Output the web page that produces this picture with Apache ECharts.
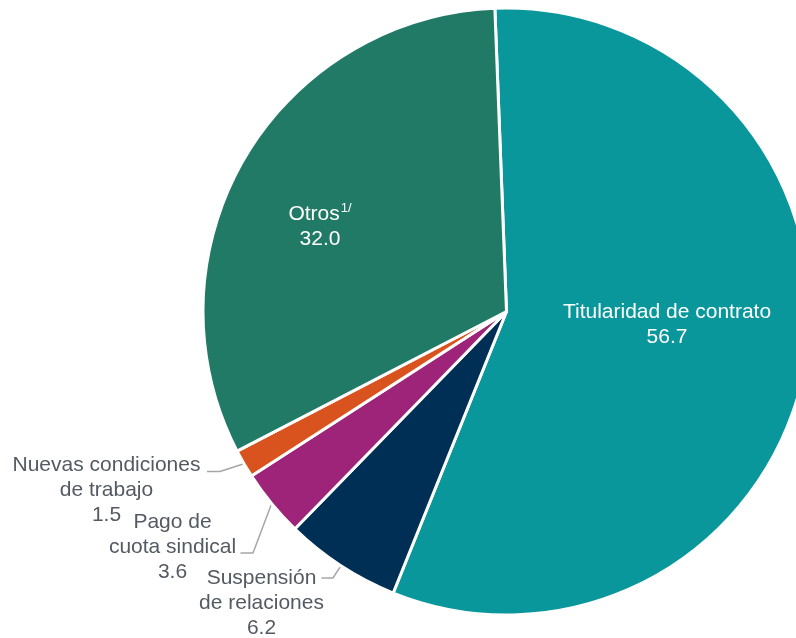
<!DOCTYPE html>
<html>
<head>
<meta charset="utf-8">
<script src="https://cdn.jsdelivr.net/npm/echarts@6/dist/echarts.min.js"></script>
<style>
html,body{margin:0;padding:0;background:#fff;}
#c{width:796px;height:638px;}
</style>
</head>
<body>
<div id="c"></div>
<script>
const categories = ['Titularidad de contrato', 'Suspensión de relaciones', 'Pago de cuota sindical', 'Nuevas condiciones de trabajo', 'Otros'];
const displayNames = ['Titularidad de contrato', 'Suspensión\nde relaciones', 'Pago de\ncuota sindical', 'Nuevas condiciones\nde trabajo', 'Otros{s|1/}'];
const values = [56.7, 6.2, 3.6, 1.5, 32.0];
const valueLabels = ['56.7', '6.2', '3.6', '1.5', '32.0'];
const colors = ['#0A979B', '#002F56', '#9E2479', '#D9531F', '#217A65'];
const insideFlags = [true, false, false, false, true];

// label placement (layout only)
const labelAnchors = [
  {x: 667, y: 324.5},
  {x: 261.5, y: 603, bend: [333, 578], end: [321.5, 578]},
  {x: 172.5, y: 547, bend: [253, 553], end: [240.5, 553]},
  {x: 106.5, y: 490, bend: [220, 471.5], end: [207, 471.5]},
  {x: 320, y: 226.5}
];

const chart = echarts.init(document.getElementById('c'), null, {renderer: 'canvas'});
const data = categories.map((c, i) => ({
  name: c,
  value: values[i],
  itemStyle: {color: colors[i]},
  label: insideFlags[i] ? {color: '#ffffff'} : {color: '#545A62'},
  labelLine: {show: !insideFlags[i]}
}));

chart.setOption({
  animation: false,
  series: [{
    type: 'pie',
    center: [506.5, 311.5],
    radius: 303.5,
    startAngle: 92.2,
    clockwise: true,
    avoidLabelOverlap: false,
    minShowLabelAngle: 0,
    itemStyle: {borderColor: '#ffffff', borderWidth: 3},
    label: {
      show: true,
      position: 'outside',
      fontFamily: 'Liberation Sans, Arial, sans-serif',
      fontSize: 21,
      lineHeight: 25,
      align: 'center',
      formatter: p => displayNames[p.dataIndex] + '\n' + valueLabels[p.dataIndex],
      rich: {
        s: {fontSize: 13, lineHeight: 25, verticalAlign: 'top', padding: [0, 0, 7, 1], color: '#ffffff', fontFamily: 'Liberation Sans, Arial, sans-serif'}
      }
    },
    labelLine: {show: true, length: 10, length2: 10, lineStyle: {color: '#A6A6A6', width: 1.5}},
    labelLayout: function (params) {
      const a = labelAnchors[params.dataIndex];
      const out = {x: a.x, y: a.y, align: 'center', verticalAlign: 'middle'};
      if (a.bend && params.labelLinePoints) {
        const p0 = params.labelLinePoints[0];
        out.labelLinePoints = [[p0[0], p0[1]], a.bend, a.end];
      }
      return out;
    },
    data: data
  }]
});
</script>
</body>
</html>
